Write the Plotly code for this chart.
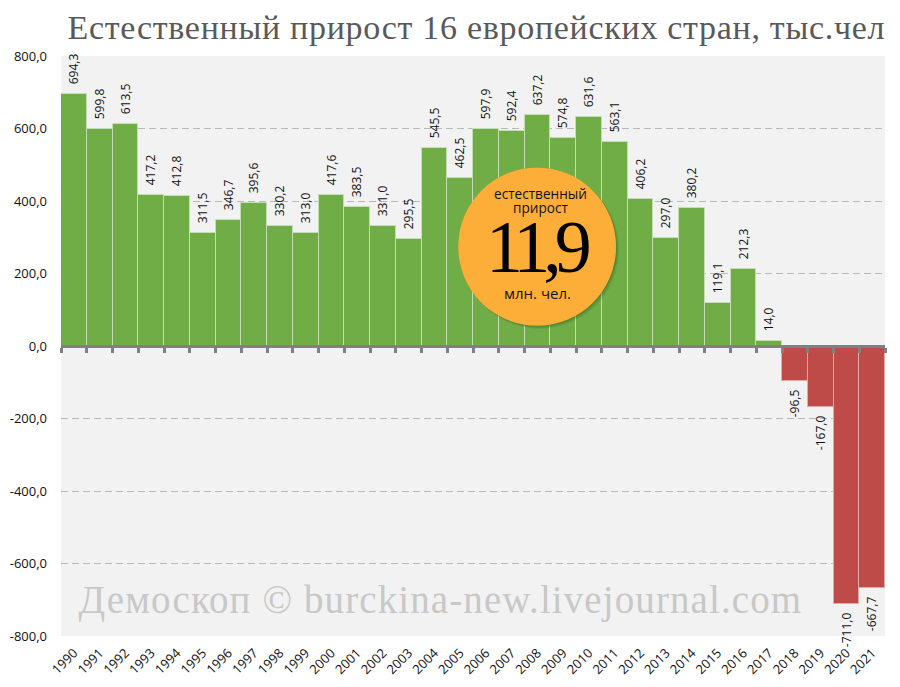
import plotly.graph_objects as go

years = list(range(1990, 2022))
values = [694.3, 599.8, 613.5, 417.2, 412.8, 311.5, 346.7, 395.6, 330.2, 313.0, 417.6,
          383.5, 331.0, 295.5, 545.5, 462.5, 597.9, 592.4, 637.2, 574.8, 631.6, 563.1,
          406.2, 297.0, 380.2, 119.1, 212.3, 14.0, -96.5, -167.0, -711.0, -667.7]
y_ticks = [800, 600, 400, 200, 0, -200, -400, -600, -800]

W, H = 900, 687
L, R, T, B = 60.7, 885, 55.5, 635.8
NB = "\u00a0\u00a0"  # pushes the bar labels away from the bars

def px_x(x):
    return (x - L) / (R - L)

def px_y(y):
    return (B - y) / (B - T)

def comma(v):
    return f"{v:.1f}".replace(".", ",")

fig = go.Figure()

# bars
fig.add_trace(go.Bar(
    x=years, y=values,
    width=1,
    marker=dict(color=["#70ad47" if v >= 0 else "#bf4b48" for v in values],
                line=dict(color=["#c6deb5" if v >= 0 else "#e3aaa8" for v in values], width=1)),
    text=[NB + comma(v) if v >= 0 else comma(v) + NB for v in values],
    texttemplate="%{text}",
    textposition="outside",
    textangle=-90,
    constraintext="none",
    cliponaxis=False,
    textfont=dict(family="Open Sans", size=12, color="#111111"),
    showlegend=False,
))

# invisible trace so the axis through zero gets drawn
fig.add_trace(go.Scatter(x=[years[0]], y=[0], xaxis="x2", mode="markers",
                         marker=dict(opacity=0), showlegend=False, hoverinfo="skip"))

# orange circle with a soft shadow
shapes = []
for off, alpha in [(5, 0.10), (4, 0.14), (3, 0.18), (2, 0.22)]:
    shapes.append(dict(type="circle", xref="paper", yref="paper",
                       x0=px_x(458 + off - 2), x1=px_x(616 + off - 2),
                       y0=px_y(325.5 + off - 2), y1=px_y(167 + off - 2),
                       fillcolor=f"rgba(40,70,20,{alpha})", line_width=0))
shapes.append(dict(type="circle", xref="paper", yref="paper",
                   x0=px_x(458), x1=px_x(616), y0=px_y(325.5), y1=px_y(167),
                   fillcolor="#fdae38", line_width=0))

def note(text, x, y, size, family="Open Sans", color="#111111"):
    return dict(text=text, xref="paper", yref="paper", x=px_x(x), y=px_y(y),
                showarrow=False, xanchor="center", yanchor="middle",
                font=dict(family=family, size=size, color=color))

annotations = [
    note("естественный", 540, 193, 13.6),
    note("прирост", 540, 207, 13.6),
    note("11,9", 535, 247, 74, family="Liberation Serif", color="#000000"),
    note("млн. чел.", 537, 293, 15),
    note("Демоскоп © burckina-new.livejournal.com", 440, 600, 39,
         family="Liberation Serif", color="#c8c8c8"),
    note("Естественный прирост 16 европейских стран, тыс.чел", 476, 27, 34,
         family="Liberation Serif", color="#595959"),
]

fig.update_layout(
    width=W, height=H,
    margin=dict(l=L, r=W - R, t=T, b=H - B, autoexpand=False),
    paper_bgcolor="white",
    plot_bgcolor="#f2f2f2",
    bargap=0,
    shapes=shapes,
    annotations=annotations,
    xaxis=dict(range=[1989.5, 2021.5], tickvals=years, ticktext=[str(y) for y in years],
               tickangle=-45, showgrid=False, zeroline=False, ticks="", showline=False,
               ticklabelstandoff=6,
               tickfont=dict(family="Open Sans", size=13, color="#111111")),
    xaxis2=dict(range=[1989.5, 2021.5], overlaying="x", anchor="free", position=0.5,
                side="bottom", tickvals=[y - 0.5 for y in years] + [2021.5],
                showticklabels=False, ticks="outside", ticklen=5, tickwidth=3,
                tickcolor="#808080", showline=True, linecolor="#808080", linewidth=3,
                showgrid=False, zeroline=False),
    yaxis=dict(range=[-800, 800], tickvals=y_ticks, ticktext=[comma(v) for v in y_ticks],
               showgrid=True, gridcolor="#b8b8b8", griddash="7px,4px", gridwidth=1.2,
               zeroline=False, showline=False, ticks="", ticklabelstandoff=13,
               tickfont=dict(family="Open Sans", size=13, color="#111111")),
)

# plotly has no letter spacing setting, so set it on the drawn annotation text
post = """
document.body.style.margin = '0';
var gd = document.getElementById('{plot_id}');
function spacing() {
  gd.querySelectorAll('.annotation-text').forEach(function (t) {
    var n = t.textContent;
    if (n === '11,9') t.style.letterSpacing = '-7px';
    else if (n.indexOf('Демоскоп') === 0) t.style.letterSpacing = '1.1px';
    else if (n.indexOf('Естественный') === 0) t.style.letterSpacing = '0.7px';
  });
}
spacing();
gd.on('plotly_afterplot', spacing);
"""

fig.write_html("out.html", post_script=post, config=dict(displayModeBar=False))
